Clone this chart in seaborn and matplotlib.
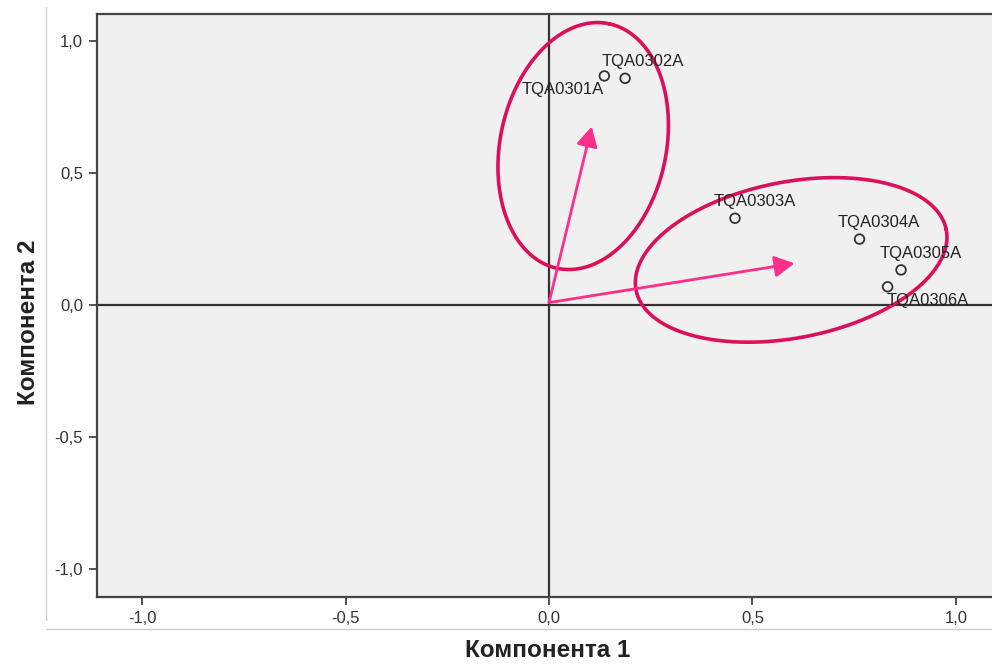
import numpy as np
import pandas as pd
import seaborn as sns
import matplotlib.pyplot as plt
from matplotlib.lines import Line2D
from matplotlib.ticker import FuncFormatter

# component loadings (rotated component plot)
items = ["TQA0301A", "TQA0302A", "TQA0303A", "TQA0304A", "TQA0305A", "TQA0306A"]
comp1 = [0.136, 0.187, 0.457, 0.763, 0.865, 0.832]
comp2 = [0.869, 0.860, 0.329, 0.250, 0.133, 0.069]

# arrows from the origin to the group directions
arrow_start = [0.0, 0.009]
arrow_x = [0.105, 0.603]
arrow_y = [0.677, 0.158]

# ellipses round the two groups: centre (data), semi axes (px), angle (deg)
ell_cx = [0.084, 0.595]
ell_cy = [0.603, 0.171]
ell_a = [125, 158]
ell_b = [83, 78]
ell_ang = [78, 11]

ticks = [-1.0, -0.5, 0.0, 0.5, 1.0]

df = pd.DataFrame({"item": items, "c1": comp1, "c2": comp2})

sns.set_style("white")
plt.rcParams["font.family"] = ["Liberation Sans", "DejaVu Sans"]

W, H = 992, 664
fig = plt.figure(figsize=(W / 100, H / 100), dpi=100)
ax = fig.add_axes([97 / W, 67 / H, (W - 97) / W, 583 / H])
ax.set_facecolor("#f0f0f0")

xlim = (-1.1106, 1.0885)
ylim = (-1.108, 1.104)
ax.set_xlim(xlim)
ax.set_ylim(ylim)

ax.axhline(0, color="#333333", lw=1.6, zorder=1)
ax.axvline(0, color="#333333", lw=1.6, zorder=1)

# ellipses, drawn in pixel space then turned into data units
pxx = (W - 97) / (xlim[1] - xlim[0])
pxy = 583 / (ylim[1] - ylim[0])
t = np.linspace(0, 2 * np.pi, 400)
for cx, cy, a, b, ang in zip(ell_cx, ell_cy, ell_a, ell_b, ell_ang):
    th = np.deg2rad(ang)
    u = a * np.cos(t)
    v = b * np.sin(t)
    X = u * np.cos(th) - v * np.sin(th)
    Y = u * np.sin(th) + v * np.cos(th)
    ax.plot(cx + X / pxx, cy + Y / pxy, color="#dc0f5a", lw=2.6, zorder=3)

sns.scatterplot(data=df, x="c1", y="c2", ax=ax, marker="o", s=48,
                facecolor="none", edgecolor="#333333", linewidth=1.3, zorder=4)

label_off = [(-30, -10), (13, 12), (14, 12), (14, 12), (14, 12), (29, -10)]
for it, x, y, off in zip(items, comp1, comp2, label_off):
    ax.annotate(it, (x, y), xytext=off, textcoords="offset points",
                ha="center", va="center", fontsize=12, color="#222222", zorder=5)

for tx, ty in zip(arrow_x, arrow_y):
    ax.annotate("", xy=(tx, ty), xytext=arrow_start,
                arrowprops=dict(arrowstyle="-|>,head_length=0.5,head_width=0.27",
                                color="#ff2e88", lw=2, mutation_scale=24,
                                shrinkA=0, shrinkB=0), zorder=6)

ax.set_xticks(ticks)
ax.set_yticks(ticks)
fmt = FuncFormatter(lambda v, p: f"{v:.1f}".replace(".", ","))
ax.xaxis.set_major_formatter(fmt)
ax.yaxis.set_major_formatter(fmt)
ax.tick_params(axis="both", direction="out", length=6, width=1.3,
               color="#444444", labelcolor="#333333", labelsize=12, pad=4)
ax.tick_params(axis="x", bottom=True)
ax.tick_params(axis="y", left=True)

for side in ["left", "top", "bottom"]:
    ax.spines[side].set_color("#444444")
    ax.spines[side].set_linewidth(1.6)
ax.spines["right"].set_visible(False)

ax.set_xlabel("Компонента 1", fontsize=17.5, fontweight="bold", color="#222222")
ax.set_ylabel("Компонента 2", fontsize=17.5, fontweight="bold", color="#222222")
ax.xaxis.set_label_coords(0.504, -0.072)
ax.yaxis.set_label_coords(-0.064, 0.472)

# thin frame lines of the chart box
fig.add_artist(Line2D([46 / W, 46 / W], [1 - 7 / H, 1 - 620 / H],
                      color="#cccccc", lw=1))
fig.add_artist(Line2D([46 / W, 1], [1 - 629 / H, 1 - 629 / H],
                      color="#cccccc", lw=1))

fig.savefig("out.png", dpi=100, facecolor="white")
